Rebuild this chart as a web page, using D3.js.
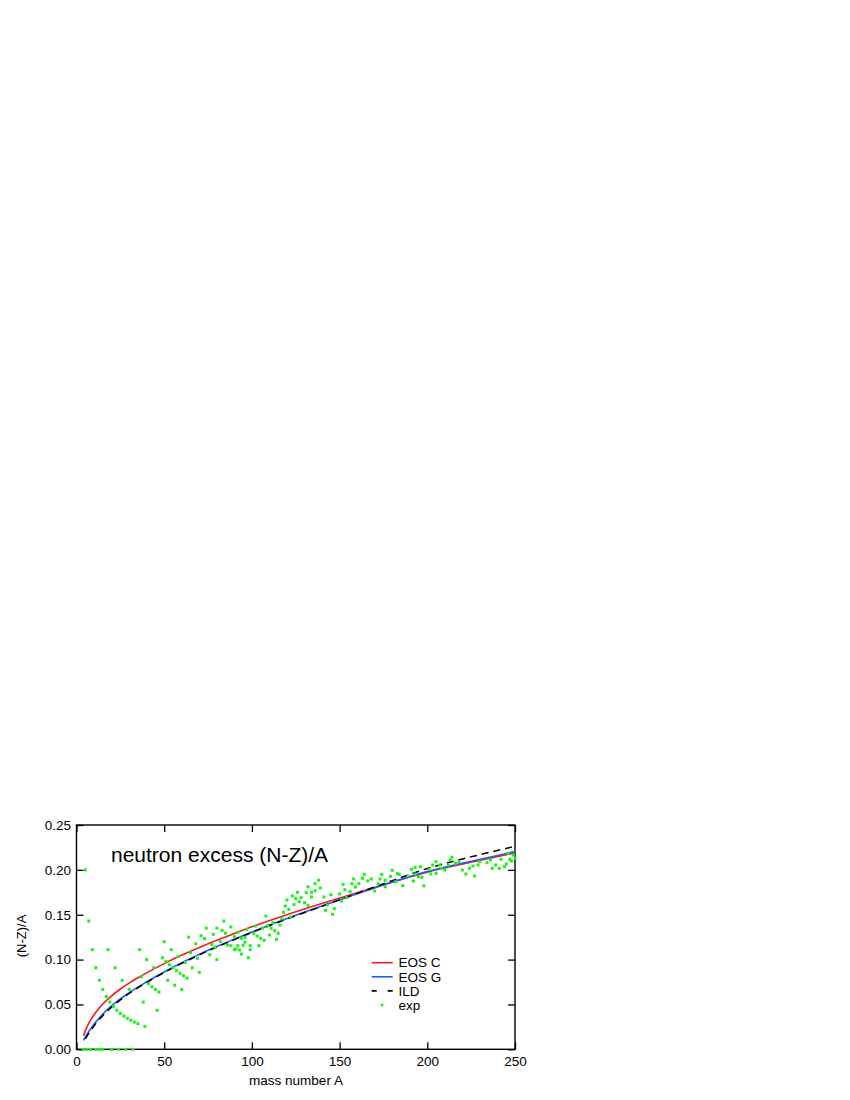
<!DOCTYPE html>
<html>
<head>
<meta charset="utf-8">
<script src="https://cdnjs.cloudflare.com/ajax/libs/d3/7.8.5/d3.min.js"></script>
<style>
  body { margin: 0; background: #fff; }
  svg { display: block; font-family: "Liberation Sans", Arial, Helvetica, sans-serif; }
</style>
</head>
<body>
<svg class="chart" width="850" height="1100"></svg>
<script>
// tick values
var xTicks = [0, 50, 100, 150, 200, 250];
var yTicks = [0, 0.05, 0.10, 0.15, 0.20, 0.25];

// model curves, [A, (N-Z)/A]
var eosC = [[4,0.015],[5,0.0205],[6,0.025],[7,0.029],[8,0.0325],[10,0.0385],[12,0.0438],[15,0.0505],[20,0.0595],[25,0.0672],[30,0.0738],[35,0.0797],[40,0.0852],[50,0.0955],[60,0.105],[70,0.1135],[80,0.1215],[90,0.129],[100,0.1365],[120,0.150],[140,0.1625],[160,0.1745],[180,0.1865],[200,0.1975],[225,0.2085],[250,0.219]];
var eosG = [[4,0.010],[5,0.0135],[6,0.0168],[7,0.0198],[8,0.0227],[10,0.028],[12,0.0328],[15,0.0393],[20,0.0485],[25,0.0562],[30,0.063],[35,0.0693],[40,0.0752],[50,0.0862],[60,0.0965],[70,0.1058],[80,0.1145],[90,0.1228],[100,0.1308],[120,0.1458],[140,0.1598],[160,0.1733],[180,0.1862],[200,0.1982],[225,0.2097],[250,0.2203]];
var ild = [[5,0.0115],[6,0.0148],[7,0.0178],[8,0.0207],[10,0.026],[12,0.0308],[15,0.0375],[20,0.047],[25,0.055],[30,0.0622],[35,0.0686],[40,0.0746],[50,0.0856],[60,0.0958],[70,0.1052],[80,0.114],[90,0.1222],[100,0.1302],[120,0.1452],[140,0.1595],[160,0.1738],[180,0.188],[200,0.2015],[225,0.2145],[250,0.2262]];

// experimental points, [A, (N-Z)/A]
var expPoints = [
  [4,0],[6,0],[8,0],[11,0],[13,0],[15,0],[20,0],[24,0],[28,0],[32,0],
  [5,0.200],[7,0.143],[9,0.111],[11,0.0909],[13,0.0769],[15,0.0667],[17,0.0588],[19,0.0526],
  [21,0.0476],[23,0.0435],[25,0.040],[27,0.037],[29,0.0345],[31,0.0323],[33,0.0303],[35,0.0286],[39,0.0256],
  [18,0.111],[22,0.0909],[26,0.0769],[30,0.0667],[38,0.0526],[46,0.0435],
  [37,0.081],[41,0.0732],[43,0.0698],[45,0.0667],[47,0.0638],
  [36,0.111],[40,0.100],[44,0.0909],[52,0.0769],[56,0.0714],[60,0.0667],
  [49,0.102],[51,0.098],[53,0.0943],[55,0.0909],[57,0.0877],[59,0.0847],[61,0.082],[63,0.0794],
  [50,0.120],[54,0.111],[58,0.1034],[62,0.0968],[66,0.0909],[70,0.0857],
  [64,0.125],[65,0.1077],[68,0.1176],[69,0.1014],[71,0.1266],[73,0.1233],[74,0.1351],[76,0.1053],
  [77,0.1169],[78,0.1282],[79,0.1139],[80,0.100],[80,0.135],[82,0.120],[83,0.1325],[84,0.143],
  [85,0.1294],[86,0.1163],[88,0.1364],[88,0.1155],[90,0.1255],[90,0.111],[91,0.1118],[92,0.1304],
  [92,0.1155],[93,0.1107],[94,0.1237],[94,0.1062],[95,0.1159],[96,0.1248],[96,0.1193],[97,0.1337],
  [98,0.1021],[99,0.111],[99,0.1155],[101,0.1293],[102,0.1374],[103,0.1263],[104,0.1155],[105,0.1237],
  [106,0.1349],[107,0.1215],[108,0.1486],[109,0.1378],[110,0.1274],[111,0.1349],[112,0.1411],[113,0.1322],
  [114,0.1226],[115,0.1293],[116,0.1385],[117,0.1452],[118,0.1527],[119,0.1597],[120,0.1664],[121,0.156],
  [122,0.1475],[123,0.1709],[124,0.1612],[125,0.1679],[126,0.175],[127,0.1645],[128,0.169],[130,0.1634],
  [131,0.1745],[132,0.1812],[132,0.1605],[134,0.175],[134,0.1698],[136,0.1846],[136,0.1768],[138,0.1884],
  [139,0.1798],[141,0.1698],[142,0.1549],[143,0.1608],[145,0.1723],[146,0.1505],[147,0.1567],[150,0.1731],
  [151,0.1653],[152,0.1839],[153,0.1779],[154,0.169],[156,0.1757],[157,0.1846],[158,0.1898],[159,0.1809],
  [161,0.1846],[163,0.1906],[164,0.195],[166,0.1876],[168,0.1898],[170,0.1764],[172,0.1846],[173,0.1898],
  [174,0.195],[176,0.1812],[176,0.1884],[179,0.1928],[180,0.1995],[182,0.1868],[183,0.1957],[184,0.195],
  [186,0.1825],[189,0.1932],[191,0.2006],[192,0.1876],[193,0.1954],[193,0.2028],[195,0.1924],[196,0.2035],
  [197,0.1917],[198,0.1822],[201,0.2006],[202,0.1954],[203,0.2054],[205,0.1962],[205,0.2091],[207,0.2054],
  [208,0.2017],[210,0.1998],[212,0.2054],[213,0.211],[214,0.214],[216,0.2073],[218,0.2091],[220,0.1998],
  [222,0.1954],[224,0.2017],[226,0.2043],[227,0.1932],[229,0.2054],[230,0.2091],[234,0.208],[236,0.211],
  [237,0.2017],[239,0.2054],[241,0.2017],[242,0.2118],[244,0.2035],[245,0.2065],[246,0.2185],[247,0.2118],
  [248,0.2098],[249,0.2165],[250,0.2130]
];

var svg = d3.select(".chart");
var plot = {left: 76.5, right: 515, top: 825, bottom: 1049.3};

var xScale = d3.scaleLinear().domain([0, 250]).range([plot.left, plot.right]);
var yScale = d3.scaleLinear().domain([0, 0.25]).range([plot.bottom, plot.top]);

var fmtY = d3.format(".2f");

// axes, ticks pointing inward on all four sides
svg.append("g")
    .attr("class", "axis axis--x")
    .attr("transform", "translate(0," + plot.bottom + ")")
    .call(d3.axisBottom(xScale).tickValues(xTicks).tickSizeInner(-7).tickSizeOuter(0).tickPadding(7));

svg.append("g")
    .attr("class", "axis axis--top")
    .attr("transform", "translate(0," + plot.top + ")")
    .call(d3.axisTop(xScale).tickValues(xTicks).tickSizeInner(-7).tickSizeOuter(0).tickFormat(""));

svg.append("g")
    .attr("class", "axis axis--y")
    .attr("transform", "translate(" + plot.left + ",0)")
    .call(d3.axisLeft(yScale).tickValues(yTicks).tickSizeInner(-7).tickSizeOuter(0).tickPadding(5.5).tickFormat(fmtY));

svg.append("g")
    .attr("class", "axis axis--right")
    .attr("transform", "translate(" + plot.right + ",0)")
    .call(d3.axisRight(yScale).tickValues(yTicks).tickSizeInner(-7).tickSizeOuter(0).tickFormat(""));

svg.selectAll(".axis .domain").remove();
svg.selectAll(".axis line").attr("stroke", "#000").attr("stroke-width", 1.3);
svg.selectAll(".axis text").attr("fill", "#000").style("font-size", "13.5px");

svg.append("rect")
    .attr("x", plot.left)
    .attr("y", plot.top)
    .attr("width", plot.right - plot.left)
    .attr("height", plot.bottom - plot.top)
    .attr("fill", "none")
    .attr("stroke", "#000")
    .attr("stroke-width", 1.4);

// curves
var line = d3.line()
    .x(function (d) { return xScale(d[0]); })
    .y(function (d) { return yScale(d[1]); })
    .curve(d3.curveMonotoneX);

svg.append("path").datum(eosC)
    .attr("d", line).attr("fill", "none")
    .attr("stroke", "#f41c1c").attr("stroke-width", 1.6);

svg.append("path").datum(eosG)
    .attr("d", line).attr("fill", "none")
    .attr("stroke", "#1f5cff").attr("stroke-width", 1.6);

svg.append("path").datum(ild)
    .attr("d", line).attr("fill", "none")
    .attr("stroke", "#000").attr("stroke-width", 1.5)
    .attr("stroke-dasharray", "7,5");

// experimental points
svg.append("g")
    .selectAll("rect")
    .data(expPoints)
    .enter().append("rect")
    .attr("x", function (d) { return xScale(d[0]) - 1.5; })
    .attr("y", function (d) { return yScale(d[1]) - 1.5; })
    .attr("width", 3)
    .attr("height", 3)
    .attr("fill", "#1ef01e");

// title and axis labels
svg.append("text")
    .attr("x", 111)
    .attr("y", 862)
    .style("font-size", "21px")
    .text("neutron excess (N-Z)/A");

svg.append("text")
    .attr("x", 296)
    .attr("y", 1084.5)
    .attr("text-anchor", "middle")
    .style("font-size", "13.5px")
    .text("mass number A");

svg.append("text")
    .attr("transform", "translate(21,936) rotate(-90)")
    .attr("dy", "0.35em")
    .attr("text-anchor", "middle")
    .style("font-size", "13px")
    .text("(N-Z)/A");

// legend
var legendItems = [
  {label: "EOS C", color: "#f41c1c", dash: null, kind: "line"},
  {label: "EOS G", color: "#1f5cff", dash: null, kind: "line"},
  {label: "ILD", color: "#000", dash: "5,11", kind: "line"},
  {label: "exp", color: "#1ef01e", dash: null, kind: "dot"}
];

var legend = svg.selectAll(".legend")
    .data(legendItems)
    .enter().append("g")
    .attr("class", "legend")
    .attr("transform", function (d, i) { return "translate(0," + (962.7 + i * 14.1) + ")"; });

legend.filter(function (d) { return d.kind === "line"; })
    .append("line")
    .attr("x1", 371.7).attr("x2", 392.7)
    .attr("y1", 0).attr("y2", 0)
    .attr("stroke", function (d) { return d.color; })
    .attr("stroke-width", 1.6)
    .attr("stroke-dasharray", function (d) { return d.dash; });

legend.filter(function (d) { return d.kind === "dot"; })
    .append("rect")
    .attr("x", 380.7).attr("y", -1.3)
    .attr("width", 2.6).attr("height", 2.6)
    .attr("fill", function (d) { return d.color; });

legend.append("text")
    .attr("x", 398.5)
    .attr("y", 0)
    .attr("dy", "0.35em")
    .style("font-size", "13.5px")
    .text(function (d) { return d.label; });
</script>
</body>
</html>
